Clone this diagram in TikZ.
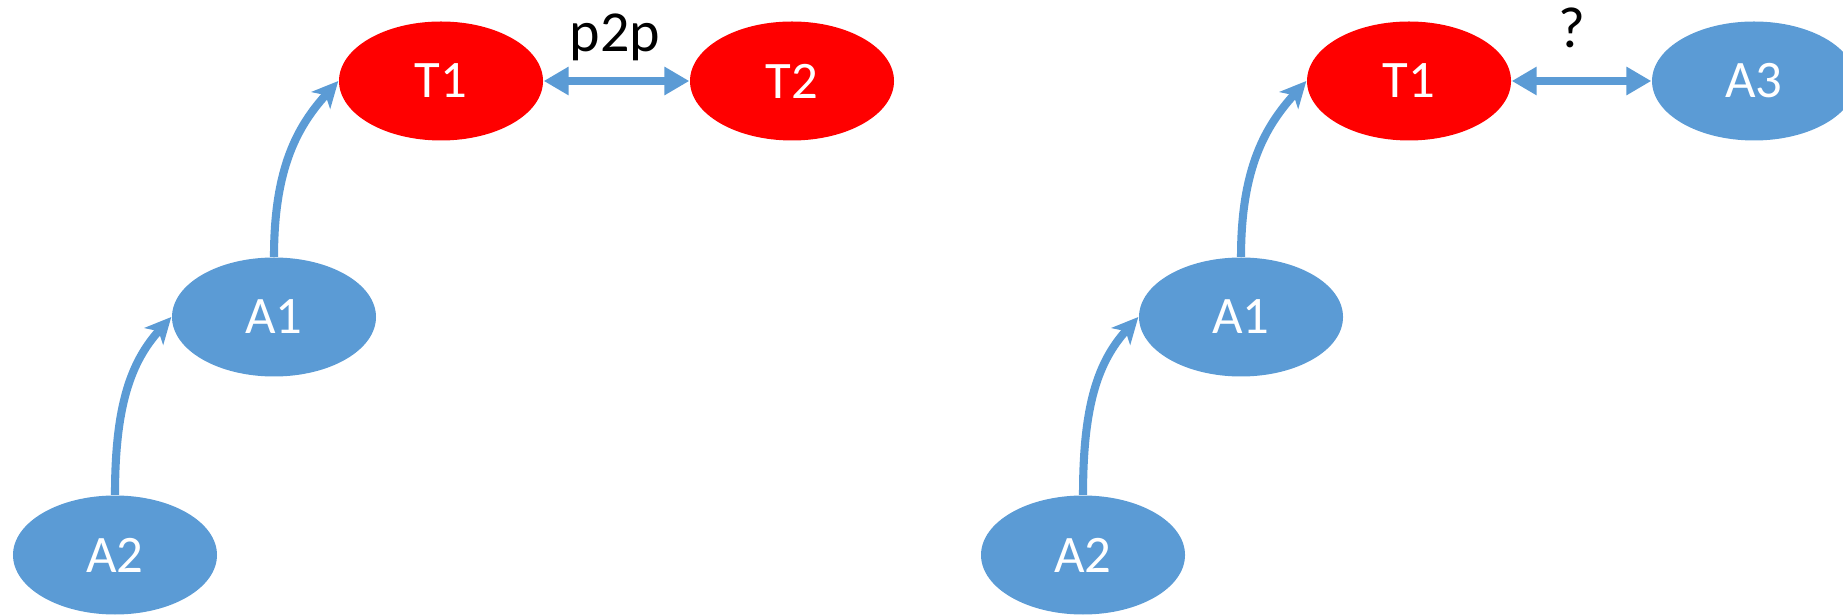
\documentclass[tikz,border=0pt]{standalone}
\usepackage{fontspec}
\setmainfont{Carlito}
\usepackage{tikz}
\usetikzlibrary{shapes.geometric, arrows.meta, positioning}

\definecolor{nodeblue}{HTML}{5B9BD5}
\definecolor{nodered}{HTML}{FF0000}

\begin{document}
\begin{tikzpicture}[
        agent/.style={ellipse, fill=nodeblue, text=white, inner sep=0pt, minimum width=2.04cm, minimum height=1.19cm, font=\fontsize{15}{18}\selectfont},
        tracker/.style={agent, fill=nodered},
        uplink/.style={draw=nodeblue, line width=2.3pt, -{Stealth[length=0.26cm, width=0.25cm, inset=0.07cm]}},
        peerlink/.style={draw=nodeblue, line width=2pt, {Triangle[length=0.25cm, width=0.27cm]}-{Triangle[length=0.25cm, width=0.27cm]}},
        tag/.style={anchor=base, font=\fontsize{16.5}{19}\selectfont}
    ]
        \useasboundingbox (0,0) rectangle (18.43,6.15);
        % left: two trackers
        \node[tracker] (T1) at (4.41,5.34) {T1};
        \node[tracker] (T2) at (7.92,5.34) {T2};
        \node[agent] (A1) at (2.74,2.98) {A1};
        \node[agent] (A2) at (1.15,0.60) {A2};
        \draw[uplink] (A2.north) .. controls +(0,0.9) and +(228:0.6) .. (A1.west);
        \draw[uplink] (A1.north) .. controls +(0,0.9) and +(228:0.6) .. (T1.west);
        \draw[peerlink] (T1) -- (T2);
        \node[tag] (P2P) at (6.15,5.63) {p2p};
        % right: tracker and agent
        \node[tracker] (RT1) at (14.09,5.34) {T1};
        \node[agent] (RA3) at (17.54,5.34) {A3};
        \node[agent] (RA1) at (12.41,2.98) {A1};
        \node[agent] (RA2) at (10.83,0.60) {A2};
        \draw[uplink] (RA2.north) .. controls +(0,0.9) and +(228:0.6) .. (RA1.west);
        \draw[uplink] (RA1.north) .. controls +(0,0.9) and +(228:0.6) .. (RT1.west);
        \draw[peerlink] (RT1) -- (RA3);
        \node[tag] (Ask) at (15.72,5.67) {?};
    \end{tikzpicture}
\end{document}
